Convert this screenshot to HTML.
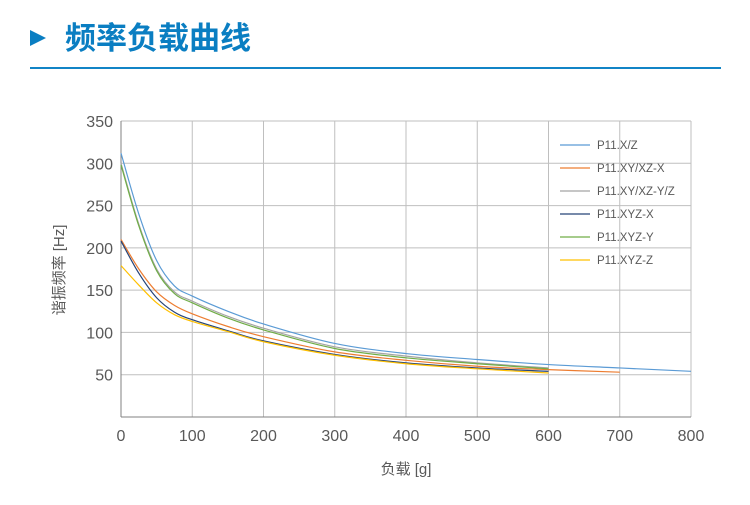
<!DOCTYPE html>
<html><head><meta charset="utf-8"><style>
body{margin:0;background:#fff;width:750px;height:505px;overflow:hidden;font-family:"Liberation Sans","Noto Sans CJK SC",sans-serif}
</style></head><body>
<svg id="s" width="750" height="505" xmlns="http://www.w3.org/2000/svg" style="position:absolute;left:0;top:0">
<polygon points="30,30 46,38 30,46" fill="#0a7ec2"/>
<text x="65" y="49" font-size="31" font-weight="bold" fill="#0a7ec2" font-family="Noto Sans CJK SC, sans-serif">频率负载曲线</text>
<rect x="30" y="67" width="691" height="2" fill="#1184c6"/>
<g id="grid"></g>
<g id="curves" fill="none" stroke-width="1.2"></g>
<g font-size="11.5" fill="#595959" id="leg"></g>
<text x="406" y="474" font-size="15" fill="#595959" text-anchor="middle">负载 [g]</text>
<text transform="translate(64,270) rotate(-90)" font-size="15" fill="#595959" text-anchor="middle">谐振频率 [Hz]</text>
</svg>
<script>
const X=v=>121+v*570/800, Y=v=>417-v*296/350;
let g='';
for(let i=0;i<=8;i++){const x=X(i*100);g+=`<line x1="${x}" y1="121" x2="${x}" y2="417" stroke="#bfbfbf"/>`;
g+=`<text x="${x}" y="441" font-size="16" fill="#595959" text-anchor="middle">${i*100}</text>`;}
for(let j=0;j<=7;j++){const y=Y(j*50);g+=`<line x1="121" y1="${y}" x2="691" y2="${y}" stroke="#bfbfbf"/>`;
if(j>0)g+=`<text x="113" y="${y+6}" font-size="16" fill="#595959" text-anchor="end">${j*50}</text>`;}
g+=`<line x1="121" y1="121" x2="121" y2="417" stroke="#808080"/><line x1="121" y1="417" x2="691" y2="417" stroke="#808080"/>`;
document.getElementById('grid').innerHTML=g;
const S=[
["P11.X/Z","#5b9bd5",[[0,312],[25,240],[50,185],[75,155],[100,143],[150,125],[200,110],[300,87],[400,75],[500,68],[600,62],[700,58],[800,54]]],
["P11.XY/XZ-X","#ed7d31",[[0,210],[25,175],[50,148],[75,132],[100,122],[150,107],[200,95],[300,77],[400,67],[500,60],[600,56],[700,53]]],
["P11.XY/XZ-Y/Z","#a5a5a5",[[0,300],[25,228],[50,175],[75,148],[100,137],[150,119],[200,105],[300,83],[400,72],[500,64],[600,58]]],
["P11.XYZ-X","#264478",[[0,208],[25,170],[50,141],[75,124],[100,115],[150,102],[200,90],[300,74],[400,64],[500,58],[600,54]]],
["P11.XYZ-Y","#70ad47",[[0,298],[25,226],[50,173],[75,146],[100,135],[150,117],[200,103],[300,81],[400,70],[500,63],[600,57]]],
["P11.XYZ-Z","#ffc000",[[0,179],[25,156],[50,135],[75,121],[100,113],[150,101],[200,89],[300,73],[400,63],[500,57],[600,52]]]];
let c='',l='';
S.forEach((s,k)=>{const p=s[2].map(q=>[X(q[0]),Y(q[1])]);let d=`M${p[0][0]},${p[0][1]}`;
for(let i=0;i<p.length-1;i++){const p0=p[i-1]||p[i],p1=p[i],p2=p[i+1],p3=p[i+2]||p2;
d+=`C${p1[0]+(p2[0]-p0[0])/6},${p1[1]+(p2[1]-p0[1])/6} ${p2[0]-(p3[0]-p1[0])/6},${p2[1]-(p3[1]-p1[1])/6} ${p2[0]},${p2[1]}`;}
c+=`<path d="${d}" stroke="${s[1]}"/>`;
const y=145+k*23;l+=`<line x1="560" y1="${y}" x2="590" y2="${y}" stroke="${s[1]}" stroke-width="1.3"/><text x="597" y="${y+4}">${s[0]}</text>`;});
document.getElementById('curves').innerHTML=c;document.getElementById('leg').innerHTML=l;
</script>
</body></html>
